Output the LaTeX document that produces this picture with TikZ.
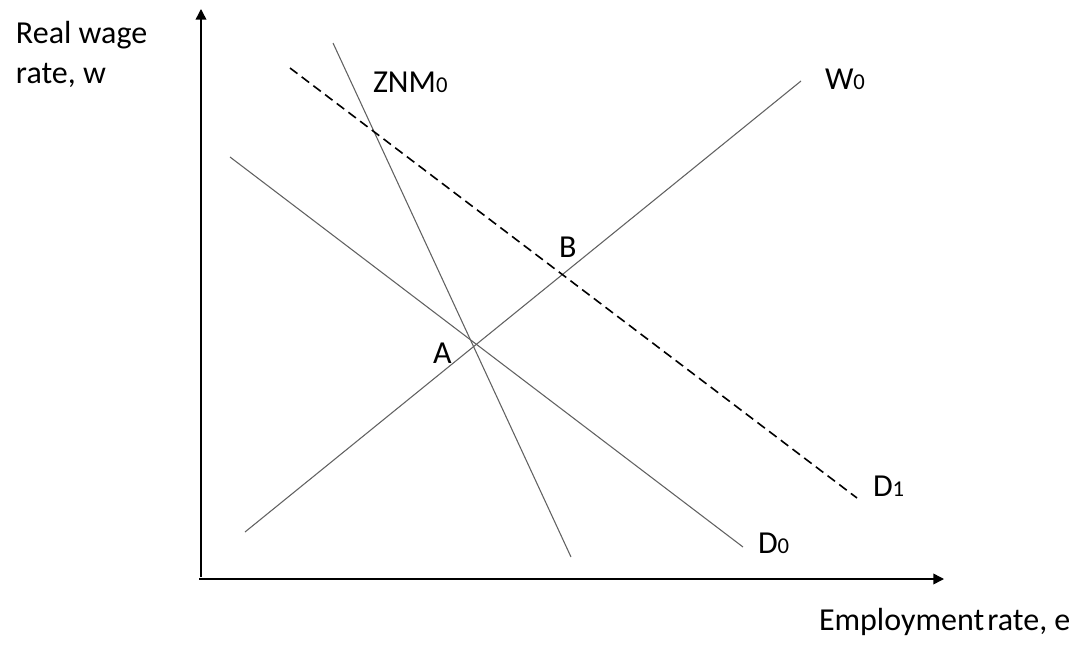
\documentclass[tikz,border=0pt]{standalone}
\usepackage{fontspec}
\setmainfont{Carlito}
\usetikzlibrary{arrows.meta}

\newcommand{\lowsub}[1]{{\fontsize{17}{17}\selectfont #1}}

\begin{document}
\begin{tikzpicture}[
x=0.75pt, y=-0.75pt,
font=\fontsize{24}{30}\selectfont,
axis/.style={-{Triangle[length=8pt,width=8pt]}, line width=1.1pt, draw=black},
curve/.style={line width=0.8pt, draw=black!62},
shifted/.style={line width=1.2pt, draw=black, dash pattern=on 7pt off 4pt},
lbl/.style={anchor=base west, inner sep=0pt, outer sep=0pt}
]
\useasboundingbox (0,0) rectangle (1089,646);

% axes
\coordinate (ybot) at (201,577);
\coordinate (ytop) at (201,9);
\coordinate (xleft) at (199,579);
\coordinate (xright) at (944,579);
\draw[axis] (ybot) -- (ytop);
\draw[axis] (xleft) -- (xright);

% line end points
\coordinate (znmtop) at (333,43);
\coordinate (znmbot) at (571,557);
\coordinate (wlow) at (245,532);
\coordinate (whigh) at (801,81);
\coordinate (dzlow) at (230,157);
\coordinate (dzhigh) at (743,547);
\coordinate (dolow) at (290,68);
\coordinate (dohigh) at (857,498);

\draw[curve] (znmtop) -- (znmbot);
\draw[curve] (wlow) -- (whigh);
\draw[curve] (dzlow) -- (dzhigh);
\draw[shifted] (dolow) -- (dohigh);

% labels
\node[lbl] (wage) at (16,43) {Real wage};
\node[lbl] (wagetwo) at (16,83) {rate, w};
\node[lbl] (emp) at (819,630) {Employment\hspace{0.1em}rate, e};
\node[lbl] (znm) at (373,92) {ZNM\lowsub{0}};
\node[lbl] (wzero) at (825,89) {W\lowsub{0}};
\node[lbl] (ptb) at (559,257) {B};
\node[lbl] (pta) at (433,363) {A};
\node[lbl] (dzero) at (758,553) {D\lowsub{0}};
\node[lbl] (done) at (873,496) {D\lowsub{1}};
\end{tikzpicture}
\end{document}
